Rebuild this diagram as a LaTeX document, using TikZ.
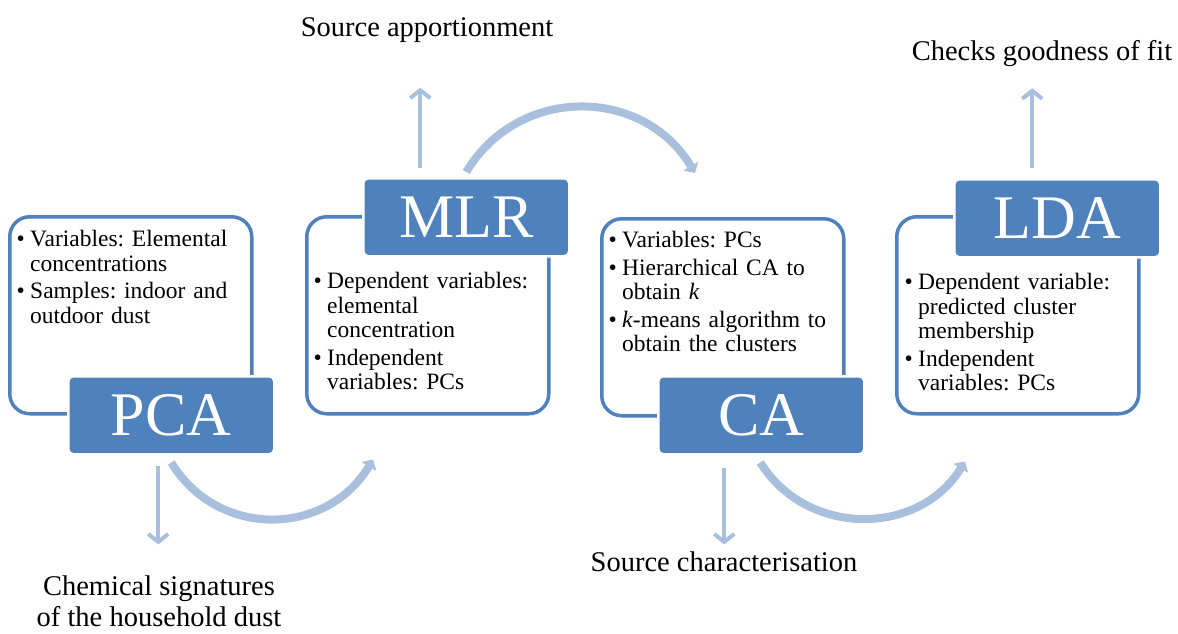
\documentclass[tikz,border=0pt]{standalone}
\usepackage{fontspec}
\setmainfont{Liberation Serif}
\usepackage{xcolor}
\usepackage{tikz}
\usetikzlibrary{arrows.meta,calc}
\frenchspacing

\definecolor{boxblue}{RGB}{79,129,189}
\definecolor{flowblue}{RGB}{168,191,222}

\tikzset{
  infobox/.style={draw=boxblue, line width=3.5pt, fill=white, rounded corners=20pt, minimum width=242pt, minimum height=197pt, anchor=north west, inner sep=0pt},
  titlebox/.style={fill=boxblue, draw=white, line width=2.5pt, rounded corners=5pt, minimum width=206pt, minimum height=78pt, anchor=north west, inner sep=0pt, text=white, font=\fontsize{62}{62}\selectfont},
  itemtext/.style={anchor=north west, inner sep=0pt, text width=240pt, align=left, font=\fontsize{23.5}{24.5}\selectfont},
  outlabel/.style={inner sep=0pt, align=center, font=\fontsize{28.5}{31}\selectfont},
  outarrow/.style={flowblue, line width=4pt, -{Straight Barb[length=8pt,width=20pt]}},
  bendarrow/.style={flowblue, line width=8pt, -{Triangle[length=8pt,width=17pt]}}
}
\newcommand{\bitem}[1]{\hangindent=13.5pt\hangafter=1\noindent\makebox[13.5pt][l]{\textbullet}#1\par}

\begin{document}
\begin{tikzpicture}[x=1pt,y=1pt,yscale=-1,xscale=1]
\useasboundingbox (0,0) rectangle (1178,633);

%Rounded Rect PCA
\node[infobox] (pcabox) at (8,215) {};
\node[titlebox] (pca) at (67,375) {PCA};
% Text Node
\node[itemtext] (pcatext) at (16.5,230) {\setlength{\parskip}{3pt}%
  \bitem{Variables: Elemental\newline concentrations}%
  \bitem{Samples: indoor and\newline outdoor dust}};

%Rounded Rect MLR
\node[infobox] (mlrbox) at (305,215) {};
\node[titlebox] (mlr) at (362,177) {MLR};
% Text Node
\node[itemtext] (mlrtext) at (313.5,272) {\setlength{\parskip}{3pt}%
  \bitem{Dependent variables:\newline elemental\newline concentration}%
  \bitem{Independent\newline variables: PCs}};

%Rounded Rect CA
\node[infobox] (cabox) at (600,217) {};
\node[titlebox] (ca) at (657,375) {CA};
% Text Node
\node[itemtext] (catext) at (608.5,231) {\setlength{\parskip}{3pt}%
  \bitem{Variables: PCs}%
  \bitem{Hierarchical CA to\newline obtain \textit{k}}%
  \bitem{\textit{k}-means algorithm to\newline obtain the clusters}};

%Rounded Rect LDA
\node[infobox] (ldabox) at (895,215) {};
\node[titlebox] (lda) at (953,178) {LDA};
% Text Node
\node[itemtext] (ldatext) at (904.5,273) {\setlength{\parskip}{3pt}%
  \bitem{Dependent variable:\newline predicted cluster\newline membership}%
  \bitem{Independent\newline variables: PCs}};

% Outcome labels
\node[outlabel] (apport) at (427,29.9) {Source apportionment};
\node[outlabel] (goodfit) at (1042,53.9) {Checks goodness of fit};
\node[outlabel] (chem) at (159,600.8) {Chemical signatures\\of the household dust};
\node[outlabel] (charact) at (724,561.3) {Source characterisation};

%Straight Lines
\draw[outarrow] ($(pca.south)+(-13,10)$) coordinate (pcaout) -- ($(pcaout |- chem.north)+(0,-30.6)$);
\draw[outarrow] ($(mlr.north)+(-46,-9)$) coordinate (mlrout) -- ($(mlrout |- apport.south)+(0,45)$);
\draw[outarrow] ($(ca.south)+(-37,12)$) coordinate (caout) -- ($(caout |- charact.north)+(0,-6.6)$);
\draw[outarrow] ($(lda.north)+(-25,-10)$) coordinate (ldaout) -- ($(ldaout |- goodfit.south)+(0,21)$);

%Curve Lines
\draw[bendarrow] ($(pca.south)+(0,7)$) .. controls +(47,77) and +(-46,77) .. ($(mlrbox.south west)+(68,44)$);
\draw[bendarrow] ($(mlr.north)+(0,-5)$) .. controls +(52,-87) and +(-52,-87) .. ($(cabox.north west)+(95,-44)$);
\draw[bendarrow] ($(ca.south)+(-1,7)$) .. controls +(47,75) and +(-46,75) .. ($(ldabox.south west)+(70,46)$);

\end{tikzpicture}
\end{document}
